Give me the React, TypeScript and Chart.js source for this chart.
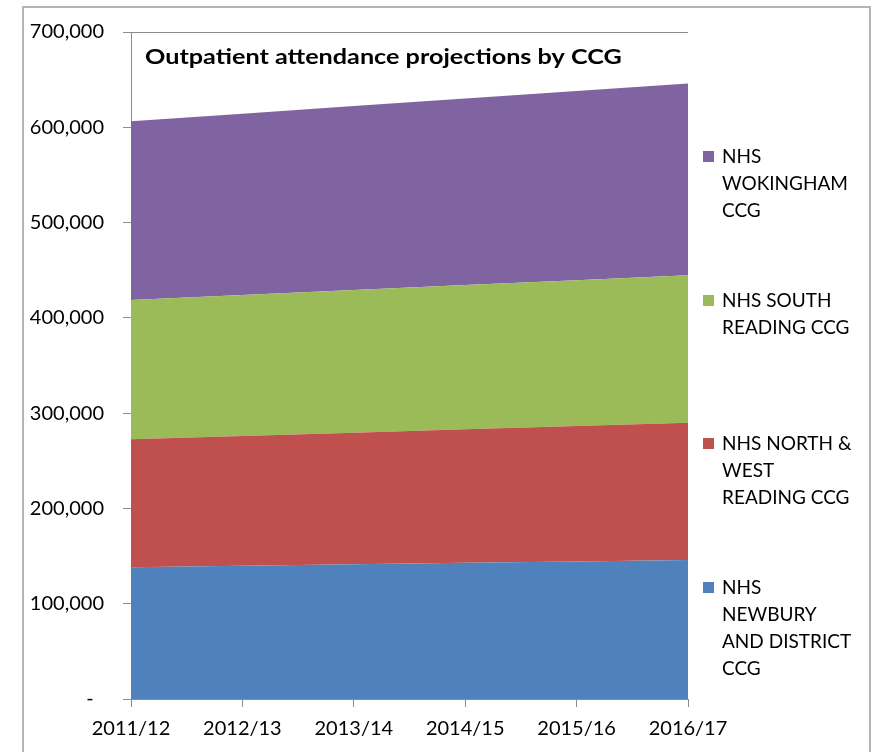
import React, { useEffect, useRef } from 'react';
import { Chart, registerables } from 'chart.js';

Chart.register(...registerables);

const TITLE = 'Outpatient attendance projections by CCG';
const years = ['2011/12', '2012/13', '2013/14', '2014/15', '2015/16', '2016/17'];

// Series values (attendances), stacked bottom to top
const newbury = [138200, 139800, 141300, 142900, 144400, 146000];
const northWestReading = [134300, 136200, 138200, 140100, 142100, 144000];
const southReading = [146300, 148000, 149700, 151400, 153000, 154600];
const wokingham = [187500, 190300, 193100, 195900, 198700, 201400];

const seriesLines = [
  ['NHS', 'NEWBURY', 'AND DISTRICT', 'CCG'],
  ['NHS NORTH &', 'WEST', 'READING CCG'],
  ['NHS SOUTH', 'READING CCG'],
  ['NHS', 'WOKINGHAM', 'CCG'],
];
const seriesValues = [newbury, northWestReading, southReading, wokingham];
const seriesColors = ['#4F81BD', '#C0504D', '#9BBB59', '#8064A2'];

const yTicks = [0, 100000, 200000, 300000, 400000, 500000, 600000, 700000];

const AXIS_GRAY = '#8c8c8c';
const FONT = 'Lato, "Open Sans", sans-serif';

const titlePlugin = {
  id: 'innerTitle',
  afterDatasetsDraw(chart: any) {
    const { ctx, chartArea } = chart;
    ctx.save();
    ctx.font = 'bold 21px ' + FONT;
    ctx.fillStyle = '#000';
    ctx.textBaseline = 'alphabetic';
    ctx.textAlign = 'left';
    ctx.translate(chartArea.left + 14, chartArea.top + 32);
    ctx.scale(1.2, 1);
    ctx.fillText(TITLE, 0, 0);
    ctx.restore();
  },
};

export default function App() {
  const canvasRef = useRef<HTMLCanvasElement | null>(null);

  useEffect(() => {
    if (!canvasRef.current) return;
    const chart = new Chart(canvasRef.current, {
      type: 'line',
      data: {
        labels: years,
        datasets: seriesValues.map((vals, i) => ({
          label: seriesLines[i].join(' '),
          data: vals,
          backgroundColor: seriesColors[i],
          borderColor: seriesColors[i],
          borderWidth: 0,
          pointRadius: 0,
          pointHoverRadius: 0,
          fill: i === 0 ? 'origin' : '-1',
          tension: 0,
        })),
      },
      options: {
        responsive: false,
        animation: false,
        devicePixelRatio: 1,
        layout: { padding: { left: 0, right: 189, top: 32, bottom: 0 } },
        plugins: {
          legend: { display: false },
          title: { display: false },
          tooltip: { enabled: false },
        },
        scales: {
          x: {
            offset: false,
            border: { display: true, color: AXIS_GRAY, width: 1 },
            grid: {
              display: true,
              drawOnChartArea: false,
              drawTicks: true,
              tickLength: 8,
              tickColor: AXIS_GRAY,
              color: AXIS_GRAY,
            },
            ticks: {
              color: '#000',
              font: { family: FONT, size: 20 },
              padding: 10,
              maxRotation: 0,
              autoSkip: false,
            },
            afterFit: (s: any) => {
              s.height = 53;
            },
          },
          y: {
            stacked: true,
            min: 0,
            max: 700000,
            afterBuildTicks: (s: any) => {
              s.ticks = yTicks.map((v) => ({ value: v }));
            },
            border: { display: true, color: AXIS_GRAY, width: 1 },
            grid: {
              display: true,
              drawOnChartArea: true,
              drawTicks: true,
              tickLength: 8,
              tickColor: AXIS_GRAY,
              color: (ctx: any) =>
                ctx.tick && ctx.tick.value === 700000 ? AXIS_GRAY : 'rgba(0,0,0,0)',
            },
            ticks: {
              color: '#000',
              font: { family: FONT, size: 20 },
              padding: 19,
              callback: (v: any) => (Number(v) === 0 ? '-  ' : Number(v).toLocaleString('en-US')),
            },
            afterFit: (s: any) => {
              s.width = 131;
            },
          },
        },
      },
      plugins: [titlePlugin],
    });
    return () => chart.destroy();
  }, []);

  const legendOrder = [3, 2, 1, 0];

  return (
    <div
      style={{
        position: 'absolute',
        left: 0,
        top: 0,
        width: 877,
        height: 752,
        overflow: 'hidden',
        background: '#fff',
      }}
    >
      <canvas
        ref={canvasRef}
        width={877}
        height={752}
        style={{ position: 'absolute', left: 0, top: 0, width: 877, height: 752, display: 'block' }}
      />
      <div
        style={{
          position: 'absolute',
          left: 22,
          top: 6,
          width: 845,
          height: 800,
          border: '2px solid #b4b4b4',
          pointerEvents: 'none',
        }}
      />
      <div style={{ position: 'absolute', left: 703, top: 142, width: 170 }}>
        {legendOrder.map((idx) => (
          <div key={idx} style={{ position: 'relative', height: 143.5 }}>
            <div
              style={{
                position: 'absolute',
                left: 0,
                top: 9,
                width: 11,
                height: 11,
                background: seriesColors[idx],
              }}
            />
            <div
              style={{
                position: 'absolute',
                left: 19,
                top: 0,
                fontFamily: FONT,
                fontSize: 19,
                lineHeight: '27px',
                color: '#000',
                whiteSpace: 'nowrap',
              }}
            >
              {seriesLines[idx].map((line, j) => (
                <div key={j}>{line}</div>
              ))}
            </div>
          </div>
        ))}
      </div>
    </div>
  );
}
